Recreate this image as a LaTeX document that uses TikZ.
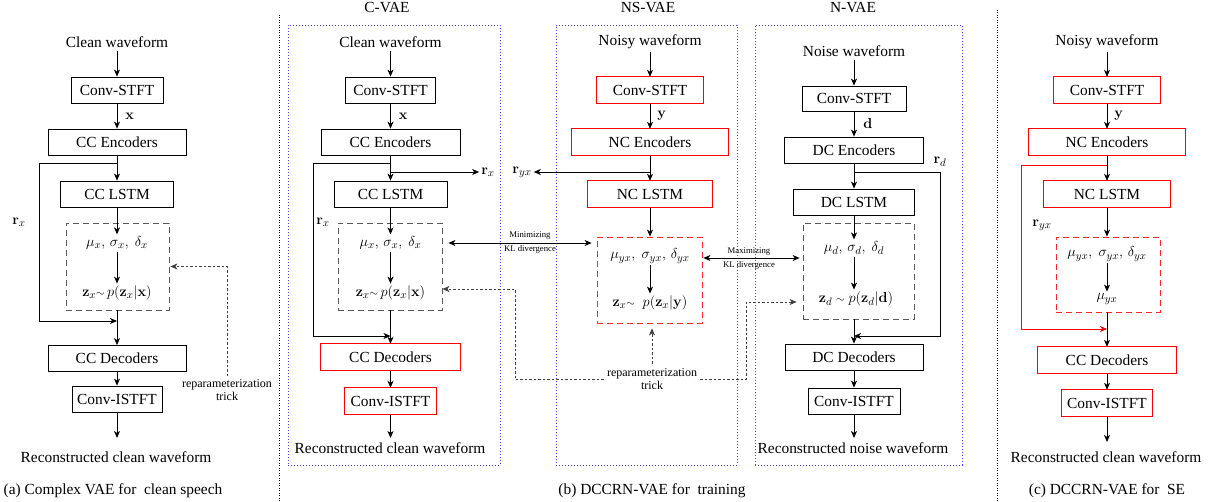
\documentclass[tikz,border=0pt]{standalone}
\usepackage[no-math]{fontspec}
\setmainfont{Liberation Serif}
\usetikzlibrary{arrows.meta}
\newcommand\fsz{\fontsize{15.4}{18}\selectfont}
\newcommand\ksz{\fontsize{8.7}{10}\selectfont}
\newcommand\rsz{\fontsize{12}{13}\selectfont}
\begin{document}
\begin{tikzpicture}[x=1pt,y=-1pt,
  every node/.style={font=\fsz, inner sep=0pt},
  txt/.style={inner sep=3pt},
  mth/.style={inner sep=2pt},
  blk/.style={draw, line width=0.8pt, minimum height=26pt},
  rblk/.style={minimum height=26pt},
  redline/.style={draw=red, line width=0.8pt},
  lat/.style={draw=black!65, line width=0.8pt, dash pattern=on 6pt off 4pt},
  rlat/.style={lat, draw=red!85},
  frame/.style={draw=blue!75, line width=0.8pt, dash pattern=on 0.8pt off 2.2pt},
  sep/.style={draw=black, line width=0.8pt, dash pattern=on 1pt off 1.5pt},
  arr/.style={-{Stealth[length=7pt,width=6pt,inset=2pt]}, line width=0.8pt},
  darr/.style={{Stealth[length=7pt,width=6pt,inset=2pt]}-{Stealth[length=7pt,width=6pt,inset=2pt]}, line width=0.8pt},
  dotarr/.style={-{Stealth[length=7pt,width=6pt,inset=2pt]}, line width=0.8pt, draw=black!75, dash pattern=on 2.5pt off 2pt},
  rep/.style={font=\rsz, align=center, inner sep=3pt},
  ttl/.style={inner sep=0pt}
]
\useasboundingbox (0,0) rectangle (1210,502);

% panel separators
\draw[sep] (279,15) -- (279,502);
\draw[sep] (997,10) -- (997,502);

% ---------------- (a) complex VAE for clean speech ----------------
\node[txt] (a_in) at (117,42) {Clean waveform};
\node[blk, minimum width=92pt] (a_stft) at (117,90) {Conv-STFT};
\node[blk, minimum width=138pt] (a_enc) at (117,142) {CC Encoders};
\node[blk, minimum width=113pt] (a_lstm) at (117,194) {CC LSTM};
\node[lat, minimum width=103pt, minimum height=87pt] (a_lat) at (117.5,266.5) {};
\node[mth] (a_mu) at (117,243) {$\mu_x,\,\sigma_x,\ \delta_x$};
\node[mth] (a_z) at (117,293) {$\mathbf{z}_x{\scriptstyle\sim}\,p(\mathbf{z}_x|\mathbf{x})$};
\node[blk, minimum width=138pt] (a_dec) at (117,358.5) {CC Decoders};
\node[blk, minimum width=90pt] (a_istft) at (117,399) {Conv-ISTFT};
\coordinate (a_end) at (117,438);
\node[txt] (a_out) at (116,457) {Reconstructed clean waveform};
\node[txt] (a_cap) at (113,491) {(a) Complex VAE for~ clean speech};
\node[mth] (a_rx) at (19,222) {$\mathbf{r}_x$};
\node[rep] (a_rep) at (227,390) {reparameterization\\trick};

\draw[arr] (a_in) -- (a_stft);
\draw[arr] (a_stft) -- node[right=8pt] (a_xl) {$\mathbf{x}$} (a_enc);
\draw[arr] (a_enc) -- (a_lstm);
\draw[arr] (a_lstm) -- (a_mu);
\draw[arr] (a_mu) -- (a_z);
\draw[arr] (a_lat.south -| a_dec) -- (a_dec);
\draw[arr] (a_dec) -- (a_istft);
\draw[arr] (a_istft) -- (a_end);
\coordinate (a_j1) at (117,163);
\coordinate (a_j2) at (117,321);
\coordinate (a_k) at (39,0);
\draw[arr] (a_j1) -- (a_j1 -| a_k) -- (a_j2 -| a_k) -- (a_j2);
\draw[dotarr, shorten >=1pt] (a_rep.north) |- (a_lat.east);

% ---------------- (b) DCCRN-VAE for training ----------------
% C-VAE
\node[ttl] (c_t) at (387,8) {C-VAE};
\node[frame, minimum width=212pt, minimum height=440pt] (c_frame) at (394,245) {};
\node[txt] (c_in) at (390.5,42) {Clean waveform};
\node[blk, minimum width=90pt] (c_stft) at (390.5,90) {Conv-STFT};
\node[blk, minimum width=139pt] (c_enc) at (390.5,142) {CC Encoders};
\node[blk, minimum width=113pt] (c_lstm) at (390.5,194) {CC LSTM};
\node[lat, minimum width=104pt, minimum height=87pt] (c_lat) at (390,266.5) {};
\node[mth] (c_mu) at (390.5,243) {$\mu_x,\,\sigma_x,\ \delta_x$};
\node[mth] (c_z) at (390.5,293) {$\mathbf{z}_x{\scriptstyle\sim}\,p(\mathbf{z}_x|\mathbf{x})$};
\node[rblk, minimum width=139pt] (c_dec) at (390.5,357) {CC Decoders};
\node[rblk, minimum width=91pt] (c_istft) at (390.5,401) {Conv-ISTFT};
\coordinate (c_end) at (390.5,438);
\node[txt] (c_out) at (390,448) {Reconstructed clean waveform};
\node[mth] (c_rx) at (323,222) {$\mathbf{r}_x$};
\node[mth] (c_rx2) at (488,172) {$\mathbf{r}_x$};

\draw[arr] (c_in) -- (c_stft);
\draw[arr] (c_stft) -- node[right=8pt] (c_xl) {$\mathbf{x}$} (c_enc);
\draw[arr] (c_enc) -- (c_lstm);
\draw[arr] (c_lstm) -- (c_mu);
\draw[arr] (c_mu) -- (c_z);
\draw[arr] (c_lat.south -| c_dec) -- (c_dec);
\draw[arr] (c_dec) -- (c_istft);
\draw[arr] (c_istft) -- (c_end);
\coordinate (c_j1) at (390.5,163);
\coordinate (c_j2) at (390.5,336);
\coordinate (c_j3) at (390.5,172);
\coordinate (c_k) at (313,0);
\draw[arr] (c_j1) -- (c_j1 -| c_k) -- (c_j2 -| c_k) -- (c_j2);
\draw[arr] (c_j3) -- (c_rx2);

% NS-VAE
\node[ttl] (ns_t) at (648,8) {NS-VAE};
\node[frame, minimum width=181pt, minimum height=440pt] (ns_frame) at (646.5,245) {};
\node[txt] (ns_in) at (650,42) {Noisy waveform};
\node[rblk, minimum width=106pt] (ns_stft) at (650,90) {Conv-STFT};
\node[rblk, minimum width=156pt] (ns_enc) at (650,142) {NC Encoders};
\node[rblk, minimum width=125pt] (ns_lstm) at (650,194) {NC LSTM};
\node[rlat, minimum width=105pt, minimum height=86pt] (ns_lat) at (649.5,280) {};
\node[mth] (ns_mu) at (650,256) {$\mu_{yx},\ \sigma_{yx},\,\delta_{yx}$};
\node[mth] (ns_z) at (650,303) {$\mathbf{z}_x{\scriptstyle\sim}\ \ p(\mathbf{z}_x|\mathbf{y})$};
\node[mth] (ns_ryx) at (522,172) {$\mathbf{r}_{yx}$};
\node[rep] (ns_rep) at (652,379.5) {reparameterization\\trick};

\draw[arr] (ns_in) -- (ns_stft);
\draw[arr] (ns_stft) -- node[right=7pt] (ns_yl) {$\mathbf{y}$} (ns_enc);
\draw[arr] (ns_enc) -- (ns_lstm);
\draw[arr] (ns_lstm) -- (ns_lat.north -| ns_lstm);
\draw[arr] (ns_mu) -- (ns_z);
\coordinate (ns_j) at (650,172);
\draw[arr] (ns_j) -- (ns_ryx);

% N-VAE
\node[ttl] (n_t) at (853,8) {N-VAE};
\node[frame, minimum width=207pt, minimum height=440pt] (n_frame) at (858.5,245) {};
\node[txt] (n_in) at (854,51) {Noise waveform};
\node[blk, minimum width=104pt, minimum height=25pt] (n_stft) at (854,98.5) {Conv-STFT};
\node[blk, minimum width=139pt] (n_enc) at (854,150) {DC Encoders};
\node[blk, minimum width=121pt] (n_lstm) at (854,202) {DC LSTM};
\node[lat, minimum width=111pt, minimum height=96pt] (n_lat) at (858.5,271) {};
\node[mth] (n_mu) at (854,248) {$\mu_d,\,\sigma_d,\ \delta_d$};
\node[mth] (n_z) at (856,299) {$\mathbf{z}_d\ {\scriptstyle\sim}\ p(\mathbf{z}_d|\mathbf{d})$};
\node[blk, minimum width=138pt] (n_dec) at (854,357) {DC Decoders};
\node[blk, minimum width=92pt] (n_istft) at (854,401) {Conv-ISTFT};
\coordinate (n_end) at (854,438);
\node[txt] (n_out) at (853,448) {Reconstructed noise waveform};
\node[mth] (n_rd) at (940,162) {$\mathbf{r}_d$};

\draw[arr] (n_in) -- (n_stft);
\draw[arr] (n_stft) -- node[right=9pt] (n_dl) {$\mathbf{d}$} (n_enc);
\draw[arr] (n_enc) -- (n_lstm);
\draw[arr] (n_lstm) -- (n_mu);
\draw[arr] (n_mu) -- (n_mu |- n_z.north);
\draw[arr] (n_lat.south -| n_dec) -- (n_dec);
\draw[arr] (n_dec) -- (n_istft);
\draw[arr] (n_istft) -- (n_end);
\coordinate (n_j1) at (854,172);
\coordinate (n_j2) at (854,336);
\coordinate (n_k) at (940,0);
\draw[arr] (n_j1) -- (n_j1 -| n_k) -- (n_j2 -| n_k) -- (n_j2);

% KL divergence terms between the latent blocks
\coordinate (kl2y) at (0,258);
\draw[darr, shorten <=6pt, shorten >=5pt] (c_lat.east |- c_mu) -- (ns_lat.west |- c_mu);
\node[font=\ksz] (kl_min) at (530,236) {Minimizing};
\node[font=\ksz] (kl_mind) at (530,249.5) {KL divergence};
\draw[darr, shorten <=1pt, shorten >=3pt] (ns_lat.east |- kl2y) -- (n_lat.west |- kl2y);
\node[font=\ksz] (kl_max) at (749,252) {Maximizing};
\node[font=\ksz] (kl_maxd) at (749,265.5) {KL divergence};

% reparameterization links
\coordinate (rb1) at (515,289);
\coordinate (rb2) at (746,302);
\draw[dotarr, shorten >=0pt] (ns_rep.west) -| (rb1) -- (c_lat.east |- rb1);
\draw[dotarr, shorten >=6pt] (ns_rep.east) -| (rb2) -- (n_lat.west |- rb2);
\draw[dotarr, shorten <=2pt, shorten >=5pt] (ns_rep.north) -- (ns_lat.south -| ns_rep.north);

\node[txt] (b_cap) at (652,491) {(b) DCCRN-VAE for~ training};

% ---------------- (c) DCCRN-VAE for SE ----------------
\node[txt] (e_in) at (1107,42) {Noisy waveform};
\node[rblk, minimum width=107pt] (e_stft) at (1107,90) {Conv-STFT};
\node[rblk, minimum width=157pt] (e_enc) at (1107,142) {NC Encoders};
\node[rblk, minimum width=127pt] (e_lstm) at (1107,194) {NC LSTM};
\node[rlat, minimum width=104pt, minimum height=75pt] (e_lat) at (1108,274.5) {};
\node[mth] (e_mu) at (1107,254) {$\mu_{yx},\ \sigma_{yx},\,\delta_{yx}$};
\node[mth] (e_m2) at (1107,299) {$\mu_{yx}$};
\node[rblk, minimum width=139pt] (e_dec) at (1107,360) {CC Decoders};
\node[rblk, minimum width=91pt] (e_istft) at (1107,403) {Conv-ISTFT};
\coordinate (e_end) at (1107,442);
\node[txt] (e_out) at (1106,457) {Reconstructed clean waveform};
\node[txt] (e_cap) at (1107,491) {(c) DCCRN-VAE for~ SE};
\node[mth] (e_ryx) at (1042,225) {$\mathbf{r}_{yx}$};

\draw[arr] (e_in) -- (e_stft);
\draw[arr] (e_stft) -- node[right=7pt] (e_yl) {$\mathbf{y}$} (e_enc);
\draw[arr] (e_enc) -- (e_lstm);
\draw[arr] (e_lstm) -- (e_lat.north -| e_lstm);
\draw[arr] (e_mu) -- (e_m2);
\draw[arr] (e_lat.south -| e_dec) -- (e_dec);
\draw[arr] (e_dec) -- (e_istft);
\draw[arr] (e_istft) -- (e_end);
\coordinate (e_j1) at (1107,165);
\coordinate (e_j2) at (1107,329);
\coordinate (e_k) at (1021,0);
\draw[arr, draw=red] (e_j1) -- (e_j1 -| e_k) -- (e_j2 -| e_k) -- (e_j2);

% red outlines of the noisy-path and retrained blocks
\foreach \b in {c_dec,c_istft,ns_stft,ns_enc,ns_lstm,e_stft,e_enc,e_lstm,e_dec,e_istft}
  \draw[redline] (\b.south west) rectangle (\b.north east);
\end{tikzpicture}
\end{document}
